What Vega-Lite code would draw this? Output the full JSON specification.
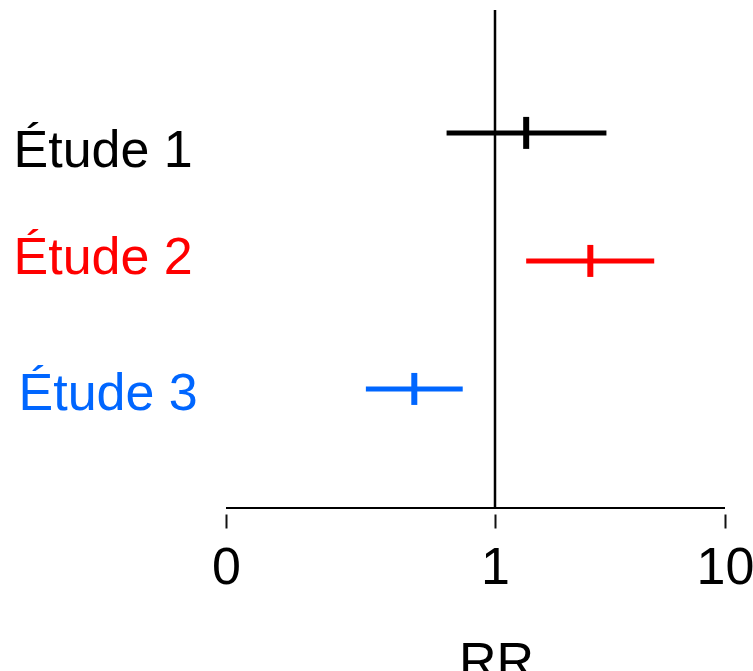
{
  "$schema": "https://vega.github.io/schema/vega-lite/v6.json",
  "width": 499,
  "height": 498,
  "autosize": {"type": "none"},
  "padding": {"left": 226, "top": 10, "right": 28, "bottom": 163},
  "background": "white",
  "config": {"view": {"stroke": null}, "font": "Liberation Sans"},
  "data": {
    "values": [
      {"etude": 1, "label": "Étude 1", "rr": 2.22, "lo": 0.82, "hi": 5.36},
      {"etude": 2, "label": "Étude 2", "rr": 4.73, "lo": 2.22, "hi": 7.23},
      {"etude": 3, "label": "Étude 3", "rr": 0.70, "lo": 0.52, "hi": 0.88}
    ]
  },
  "layer": [
    {
      "data": {"values": [{}]},
      "mark": {"type": "rule", "strokeWidth": 2.5, "color": "#000000"},
      "encoding": {"x": {"datum": 1, "type": "quantitative"}}
    },
    {
      "data": {"values": [{}]},
      "mark": {"type": "rule", "strokeWidth": 2, "color": "#000000"},
      "encoding": {"y": {"datum": 3.93, "type": "quantitative"}}
    },
    {
      "mark": {"type": "rule", "strokeWidth": 5},
      "encoding": {
        "x": {
          "field": "lo",
          "type": "quantitative",
          "scale": {"domain": [0, 1, 10], "range": [0, 269, 499], "nice": false, "zero": false, "clamp": false},
          "axis": {
            "values": [0, 1, 10],
            "domain": false,
            "grid": false,
            "offset": 6,
            "tickSize": 14,
            "tickWidth": 2,
            "tickColor": "#111111",
            "labelFont": "Liberation Sans",
            "labelFontSize": 52,
            "labelColor": "#000000",
            "labelBaseline": "alphabetic",
            "labelPadding": 55,
            "labelFlush": false,
            "labelOverlap": false,
            "labelBound": false,
            "title": "RR",
            "titleFont": "Liberation Sans",
            "titleFontSize": 52,
            "titleFontWeight": "normal",
            "titleColor": "#000000",
            "titleX": 270,
            "titleY": 164,
            "titleAlign": "center",
            "titleBaseline": "alphabetic"
          }
        },
        "x2": {"field": "hi"},
        "y": {
          "field": "etude",
          "type": "quantitative",
          "scale": {"domain": [0.04, 3.93], "reverse": true, "nice": false, "zero": false},
          "axis": {
            "values": [1, 2, 3],
            "domain": false,
            "grid": false,
            "ticks": false,
            "tickSize": 0,
            "title": null,
            "labelExpr": "'Étude ' + datum.value",
            "labelFont": "Liberation Sans",
            "labelFontSize": 52,
            "labelAlign": "left",
            "labelBaseline": "alphabetic",
            "labelPadding": {
              "condition": {"test": "datum.value == 3", "value": 208},
              "value": 213
            },
            "labelBound": false,
            "labelOverlap": false,
            "labelColor": {
              "condition": [
                {"test": "datum.value == 2", "value": "#ff0000"},
                {"test": "datum.value == 3", "value": "#0066ff"}
              ],
              "value": "#000000"
            },
            "labelOffset": {
              "condition": [
                {"test": "datum.value == 1", "value": 34},
                {"test": "datum.value == 2", "value": 13}
              ],
              "value": 21
            }
          }
        },
        "color": {
          "field": "label",
          "type": "nominal",
          "scale": {"domain": ["Étude 1", "Étude 2", "Étude 3"], "range": ["#000000", "#ff0000", "#0066ff"]},
          "legend": null
        }
      }
    },
    {
      "mark": {"type": "tick", "orient": "vertical", "size": 32, "thickness": 6, "opacity": 1},
      "encoding": {
        "x": {"field": "rr", "type": "quantitative"},
        "y": {"field": "etude", "type": "quantitative"},
        "color": {"field": "label", "type": "nominal", "legend": null}
      }
    }
  ]
}
